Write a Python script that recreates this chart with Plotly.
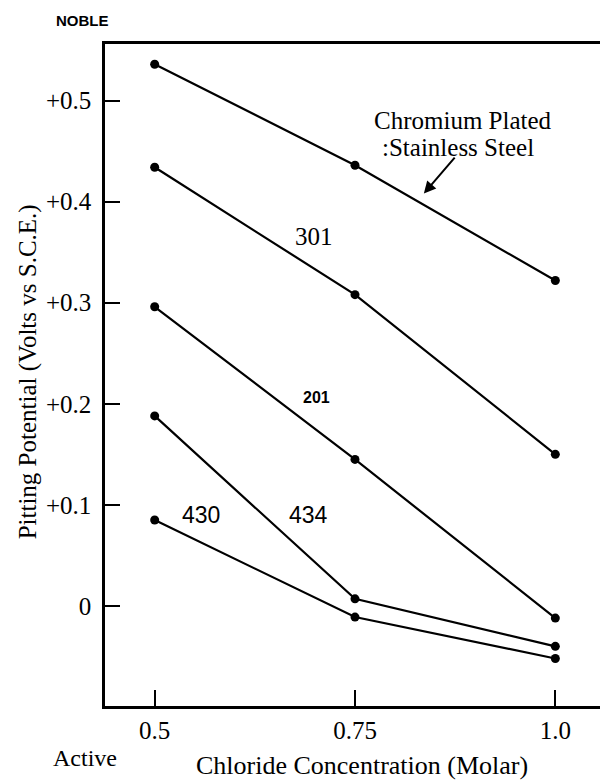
import plotly.graph_objects as go

concentration = [0.5, 0.75, 1.0]
chromium_plated = [0.536, 0.436, 0.322]
steel_301 = [0.434, 0.308, 0.150]
steel_201 = [0.296, 0.145, -0.012]
steel_434 = [0.188, 0.007, -0.040]
steel_430 = [0.085, -0.011, -0.052]

series = [
    ("Chromium Plated Stainless Steel", chromium_plated),
    ("301", steel_301),
    ("201", steel_201),
    ("434", steel_434),
    ("430", steel_430),
]

y_tickvals = [0.5, 0.4, 0.3, 0.2, 0.1, 0.0, -0.1]
y_ticktext = ["+0.5", "+0.4", "+0.3", "+0.2", "+0.1", "0", "\u22120.1"]
x_tickvals = [0.5, 0.75, 1.0]
x_ticktext = ["0.5", "0.75", "1.0"]

SERIF = "Liberation Serif, Times New Roman, serif"
SANS = "Liberation Sans, Arial, sans-serif"

fig = go.Figure()
for name, vals in series:
    fig.add_trace(go.Scatter(
        x=concentration, y=vals, mode="lines+markers", name=name,
        line=dict(color="black", width=2.2),
        marker=dict(color="black", size=9),
        showlegend=False,
    ))

fig.update_xaxes(
    range=[0.438, 1.057], tickvals=x_tickvals, ticktext=x_ticktext,
    ticks="inside", ticklen=16, tickwidth=2, tickcolor="black",
    showline=True, linecolor="black", linewidth=2.5, mirror=True,
    showgrid=False, zeroline=False,
    tickfont=dict(family=SERIF, size=25, color="black"),
)
fig.update_yaxes(
    range=[-0.099, 0.556], tickvals=y_tickvals, ticktext=y_ticktext,
    ticks="inside", ticklen=15, tickwidth=2, tickcolor="black",
    showline=True, linecolor="black", linewidth=2.5, mirror=True,
    showgrid=False, zeroline=False,
    ticklabelstandoff=6,
    tickfont=dict(family=SERIF, size=25, color="black"),
)

ann = []
ann.append(dict(x=0.885, y=0.480, xref="x", yref="y", text="Chromium Plated",
                showarrow=False, font=dict(family=SERIF, size=25, color="black")))
ann.append(dict(x=0.878, y=0.454, xref="x", yref="y", text=":Stainless Steel",
                showarrow=False, font=dict(family=SERIF, size=25, color="black")))
ann.append(dict(x=0.836, y=0.408, xref="x", yref="y", ax=0.876, ay=0.445,
                axref="x", ayref="y", text="", showarrow=True,
                arrowhead=2, arrowsize=1.2, arrowwidth=2, arrowcolor="black"))
ann.append(dict(x=0.699, y=0.366, xref="x", yref="y", text="301",
                showarrow=False, font=dict(family=SERIF, size=25, color="black")))
ann.append(dict(x=0.702, y=0.206, xref="x", yref="y", text="<b>201</b>",
                showarrow=False, font=dict(family=SANS, size=16, color="black")))
ann.append(dict(x=0.558, y=0.090, xref="x", yref="y", text="430",
                showarrow=False, font=dict(family=SANS, size=23, color="black")))
ann.append(dict(x=0.692, y=0.090, xref="x", yref="y", text="434",
                showarrow=False, font=dict(family=SANS, size=23, color="black")))
ann.append(dict(x=-0.156, y=0.505, xref="paper", yref="paper",
                xanchor="center", yanchor="middle",
                text="Pitting Potential (Volts vs S.C.E.)", textangle=-90,
                showarrow=False, font=dict(family=SERIF, size=25, color="black")))
ann.append(dict(x=0.519, y=-0.0906, xref="paper", yref="paper",
                xanchor="center", yanchor="middle",
                text="Chloride Concentration (Molar)",
                showarrow=False, font=dict(family=SERIF, size=26, color="black")))
ann.append(dict(x=-0.04, y=-0.0785, xref="paper", yref="paper",
                xanchor="center", yanchor="middle",
                text="Active",
                showarrow=False, font=dict(family=SERIF, size=24, color="black")))
ann.append(dict(x=-0.046, y=1.036, xref="paper", yref="paper",
                xanchor="center", yanchor="middle",
                text="<b>NOBLE</b>",
                showarrow=False, font=dict(family=SANS, size=15, color="black")))

# the page body adds an 8 px margin, so the figure is 8 px smaller and shifted
fig.update_layout(
    width=600, height=775,
    margin=dict(l=97, r=4, t=36, b=77),
    paper_bgcolor="white", plot_bgcolor="white",
    annotations=ann,
)

fig.write_html("out.html")
